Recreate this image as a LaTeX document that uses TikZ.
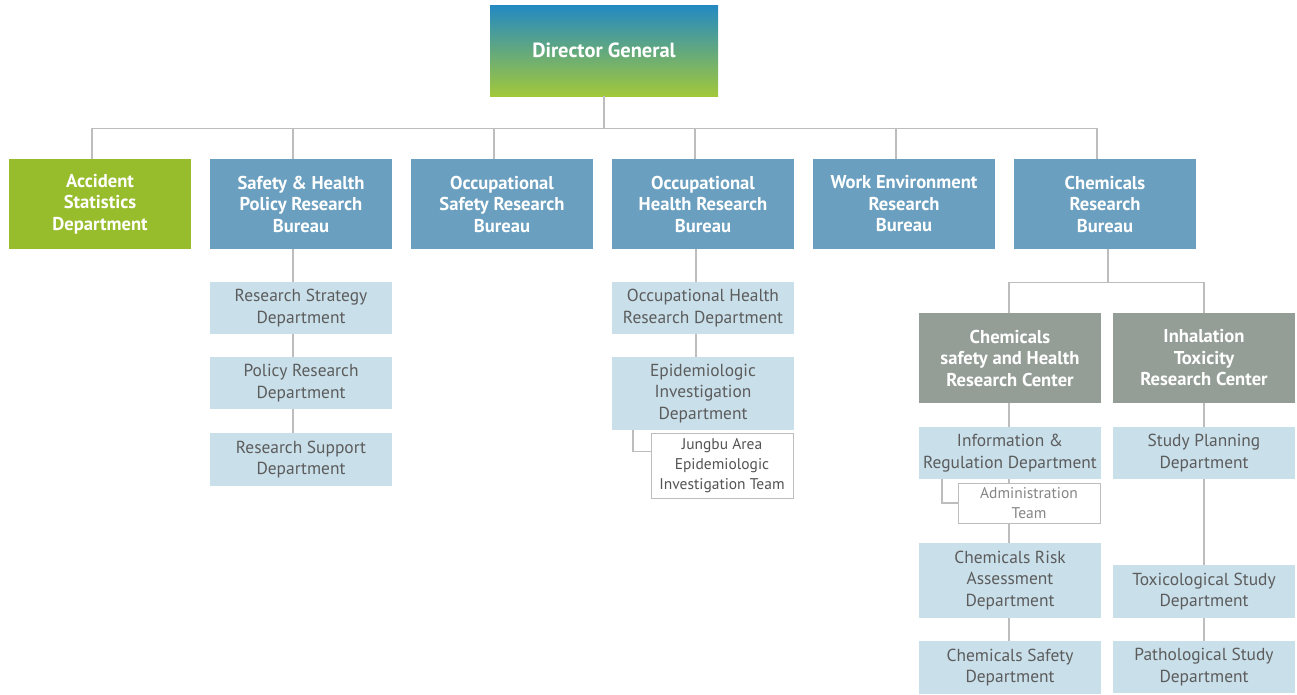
\documentclass[tikz,border=0pt]{standalone}
\usepackage{fontspec}
\setmainfont{PT Sans}
\definecolor{dgtop}{HTML}{2389C3}
\definecolor{dgbot}{HTML}{A2C83A}
\definecolor{grn}{HTML}{97BC2C}
\definecolor{blu}{HTML}{6A9FBF}
\definecolor{gry}{HTML}{949E96}
\definecolor{lblu}{HTML}{C9DFEA}
\definecolor{lin}{HTML}{BDBDBD}
\definecolor{txt}{HTML}{5C5C5C}
\begin{document}
\begin{tikzpicture}[x=1pt, y=-1pt,
    base/.style={inner sep=0pt, align=center, minimum width=182pt},
    head/.style={base, minimum height=90pt, text=white, font=\bfseries\fontsize{18.6}{21.5}\selectfont},
    dept/.style={base, fill=lblu, text=txt, font=\fontsize{17.4}{21.5}\selectfont},
    team/.style={inner sep=0pt, align=center, minimum width=142pt, draw=lin, line width=1pt, fill=white, text=txt!90!black, font=\fontsize{15.5}{20}\selectfont},
    conn/.style={draw=lin, line width=1.3pt}]
    \useasboundingbox (0, 0) rectangle (1297, 694);
    % director
    \node[base, minimum width=228pt, minimum height=91pt, top color=dgtop, bottom color=dgbot, text=white, font=\bfseries\fontsize{20.5}{24}\selectfont] (dg) at (604, 50.5) {Director General};
    % bureaus
    \node[head, fill=grn] (b1) at (100, 204) {Accident\\Statistics\\Department};
    \node[head, fill=blu] (b2) at (301, 204) {Safety \& Health\\Policy Research\\Bureau};
    \node[head, fill=blu] (b3) at (502, 204) {Occupational\\Safety Research\\Bureau};
    \node[head, fill=blu] (b4) at (703, 204) {Occupational\\Health Research\\Bureau};
    \node[head, fill=blu] (b5) at (904, 204) {Work Environment\\Research\\Bureau};
    \node[head, fill=blu] (b6) at (1105, 204) {Chemicals\\Research\\Bureau};
    \draw[conn] (dg.south) -- ++(0, 32) coordinate (bus);
    \foreach \b in {b1, b2, b3, b4, b5, b6}
        \draw[conn] (bus) -| ([xshift=-8pt]\b.north);
    % safety & health policy
    \node[dept, minimum height=52pt] (sh1) at (301, 308) {Research Strategy\\Department};
    \node[dept, minimum height=52pt] (sh2) at (301, 383) {Policy Research\\Department};
    \node[dept, minimum height=53pt] (sh3) at (301, 459.5) {Research Support\\Department};
    \draw[conn] ([xshift=-8pt]b2.south) -- ([xshift=-8pt]sh1.north);
    \draw[conn] ([xshift=-8pt]sh1.south) -- ([xshift=-8pt]sh2.north);
    \draw[conn] ([xshift=-8pt]sh2.south) -- ([xshift=-8pt]sh3.north);
    % occupational health
    \node[dept, minimum height=52pt] (oh1) at (703, 308) {Occupational Health\\Research Department};
    \node[dept, minimum height=73pt] (oh2) at (703, 393.5) {Epidemiologic\\Investigation\\Department};
    \node[team, minimum height=65pt] (jb) at (722, 465.5) {Jungbu Area\\Epidemiologic\\Investigation Team};
    \draw[conn] ([xshift=-7pt]b4.south) -- ([xshift=-7pt]oh1.north);
    \draw[conn] ([xshift=-7pt]oh1.south) -- ([xshift=-7pt]oh2.north);
    \draw[conn] ([xshift=-70pt]oh2.south) |- ([yshift=-19pt]jb.north west);
    % chemicals
    \node[head, fill=gry] (cc) at (1010, 358) {Chemicals\\safety and Health\\Research Center};
    \node[head, fill=gry] (ih) at (1204, 358) {Inhalation\\Toxicity\\Research Center};
    \draw[conn] ([xshift=3pt]b6.south) -- ++(0, 33) coordinate (cbus);
    \draw[conn] (cbus) -| ([xshift=-1pt]cc.north);
    \draw[conn] (cbus) -| (ih.north);
    \node[dept, minimum height=52pt] (cc1) at (1010, 453) {Information \&\\Regulation Department};
    \node[team, minimum height=40pt, text=txt!75] (adm) at (1029, 503) {Administration\\Team};
    \node[dept, minimum height=75pt] (cc2) at (1010, 580.5) {Chemicals Risk\\Assessment\\Department};
    \node[dept, minimum height=53pt] (cc3) at (1010, 667.5) {Chemicals Safety\\Department};
    \draw[conn] ([xshift=-1pt]cc.south) -- ([xshift=-1pt]cc1.north);
    \draw[conn] ([xshift=-1pt]cc1.south) -- ([xshift=-1pt]cc1.south |- adm.north);
    \draw[conn] ([xshift=-1pt]cc2.north |- adm.south) -- ([xshift=-1pt]cc2.north);
    \draw[conn] ([xshift=-1pt]cc2.south) -- ([xshift=-1pt]cc3.north);
    \draw[conn] ([xshift=-68pt]cc1.south) |- (adm.west);
    \node[dept, minimum height=52pt] (ih1) at (1204, 453) {Study Planning\\Department};
    \node[dept, minimum height=53pt] (ih2) at (1204, 591.5) {Toxicological Study\\Department};
    \node[dept, minimum height=52pt] (ih3) at (1204, 667) {Pathological Study\\Department};
    \draw[conn] (ih.south) -- (ih1.north);
    \draw[conn] (ih1.south) -- (ih2.north);
    \draw[conn] (ih2.south) -- (ih3.north);
\end{tikzpicture}
\end{document}
